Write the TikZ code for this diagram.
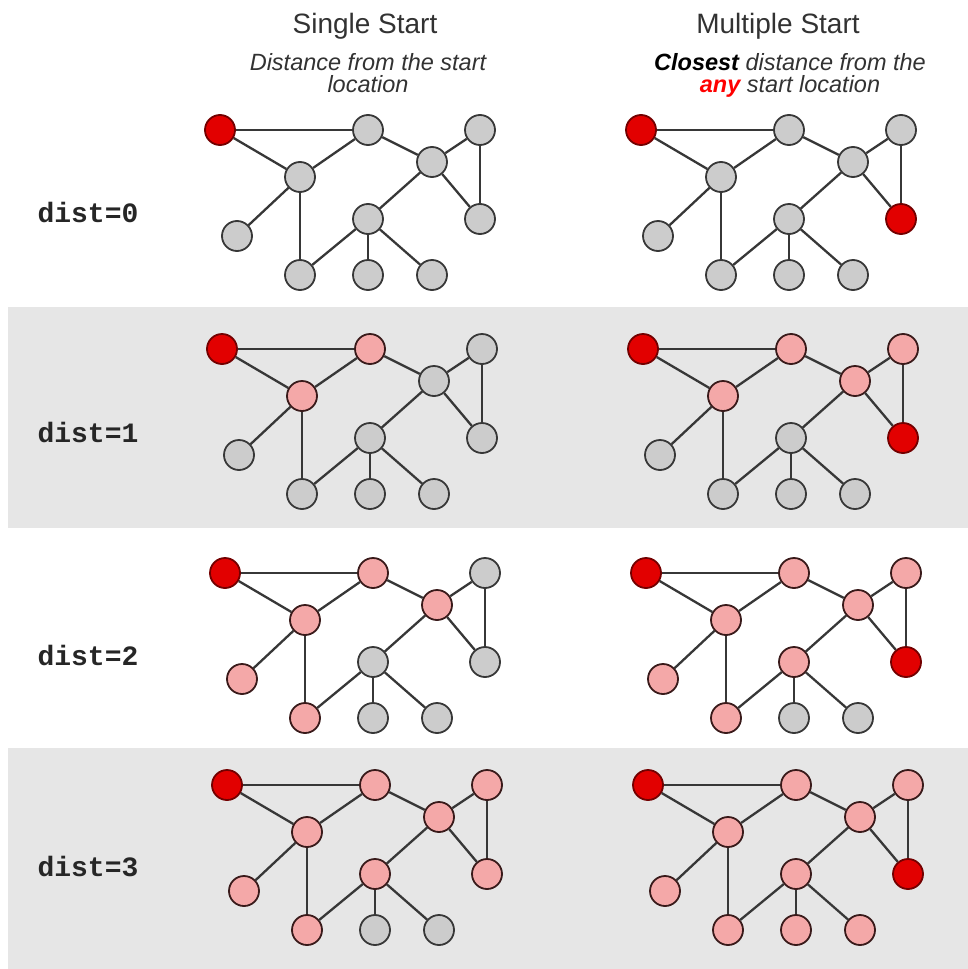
\documentclass[tikz,border=0pt]{standalone}
\usepackage{fontspec}
\setmainfont{Liberation Sans}
\setmonofont{Liberation Mono}

\definecolor{bandgray}{RGB}{230,230,230}
\definecolor{nodegray}{RGB}{204,204,204}
\definecolor{seenpink}{RGB}{244,168,168}
\definecolor{startred}{RGB}{226,0,0}
\definecolor{linegray}{RGB}{55,55,55}
\definecolor{textgray}{RGB}{50,50,50}

\tikzset{
  vertex/.style={circle, draw=linegray, line width=1.8pt, fill=nodegray,
    minimum size=30pt, inner sep=0pt},
  seen/.style={fill=seenpink, draw=linegray!80!red!60!black},
  start/.style={fill=startred, draw=red!45!black},
  link/.style={draw=linegray, line width=2.3pt},
  title/.style={font=\fontsize{28}{28}\selectfont, text=textgray, inner sep=0pt},
  subtitle/.style={font=\fontsize{23.5}{22.5}\selectfont\itshape, text=textgray,
    align=center, inner sep=0pt},
  distlabel/.style={font=\fontsize{28}{28}\selectfont\ttfamily\bfseries,
    text=black!85, inner sep=0pt},
  % per-vertex styles, overridden for each graph
  vS/.style=start, vA/.style={}, vB/.style={}, vC/.style={}, vD/.style={},
  vE/.style={}, vF/.style={}, vG/.style={}, vH/.style={}, vI/.style={},
  vJ/.style={},
  mark seen/.style={v#1/.style=seen},
  mark start/.style={v#1/.style=start}
}

% one copy of the graph: #1 name prefix, #2 shift, #3 vertex states
\newcommand{\netgraph}[3]{%
  \begin{scope}[shift={#2}, #3]
    \foreach \v/\x/\y in {S/220/130, A/368/130, B/300/177, C/432/162,
        D/480/130, E/480/219, F/237/236, G/368/219, H/300/275,
        I/368/275, J/432/275}
      \node[vertex, v\v] (#1-\v) at (\x,\y) {};
    \foreach \a/\b in {S/A, S/B, B/A, B/F, B/H, A/C, C/D, C/E, D/E,
        C/G, G/H, G/I, G/J}
      \draw[link] (#1-\a) -- (#1-\b);
  \end{scope}}

\begin{document}
\begin{tikzpicture}[x=1pt, y=-1pt]

\useasboundingbox (0,0) rectangle (968,969);
% shaded rows
\fill[bandgray] (8,307) rectangle (968,528);
\fill[bandgray] (8,748) rectangle (968,969);

% column headings
\node[title, anchor=base] (single) at (365,33) {Single Start};
\node[title, anchor=base] (multiple) at (778,33) {Multiple Start};
\node[subtitle, anchor=north] (singlenote) at (368,53)
  {Distance from the start\\location};
\node[subtitle, anchor=north] (multinote) at (790,53)
  {\textbf{\color{black}Closest} distance from the\\
   \textbf{\color{red}any} start location};

% row labels
\node[distlabel] (d0) at (88,212) {dist=0};
\node[distlabel] (d1) at (88,432) {dist=1};
\node[distlabel] (d2) at (88,655) {dist=2};
\node[distlabel] (d3) at (88,867) {dist=3};

% dist=0
\netgraph{s0}{(0,0)}{}
\netgraph{m0}{(421,0)}{mark start=E}
% dist=1
\netgraph{s1}{(2,219)}{mark seen/.list={A,B}}
\netgraph{m1}{(423,219)}{mark start=E, mark seen/.list={A,B,C,D}}
% dist=2
\netgraph{s2}{(5,443)}{mark seen/.list={A,B,C,F,H}}
\netgraph{m2}{(426,443)}{mark start=E, mark seen/.list={A,B,C,D,F,G,H}}
% dist=3
\netgraph{s3}{(7,655)}{mark seen/.list={A,B,C,D,E,F,G,H}}
\netgraph{m3}{(428,655)}{mark start=E, mark seen/.list={A,B,C,D,F,G,H,I,J}}

\end{tikzpicture}
\end{document}
